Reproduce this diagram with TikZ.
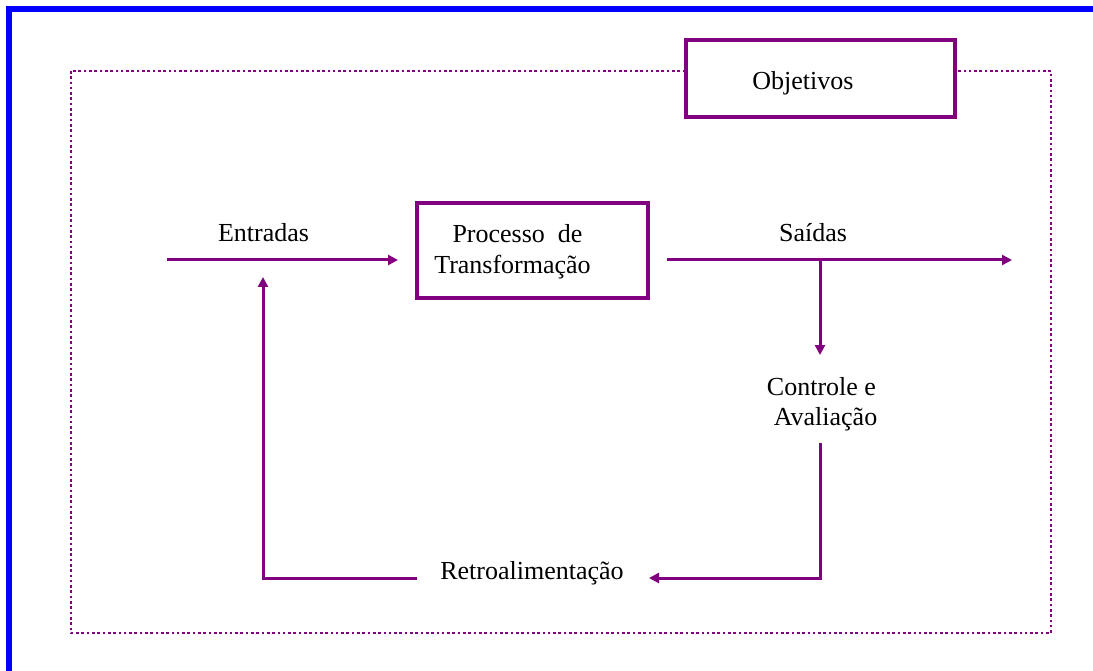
\documentclass[tikz,border=0pt]{standalone}
\usepackage{fontspec}
\setmainfont{Liberation Serif}
\usetikzlibrary{arrows.meta}
\definecolor{ink}{RGB}{128,0,128}
\definecolor{frameblue}{RGB}{0,0,255}
\begin{document}
\begin{tikzpicture}[x=1pt,y=-1pt,
  every node/.style={font=\fontsize{26}{30}\selectfont, inner sep=0pt, outer sep=0pt},
  box/.style={draw=ink, line width=3.2pt, fill=white, rectangle},
  flow/.style={draw=ink, line width=3pt, -{Triangle[length=10pt,width=10pt]}},
  boundary/.style={draw=ink, line width=2.8pt, dash pattern=on 2.6pt off 2.7pt},
  txt/.style={anchor=base, text=black}
]
\useasboundingbox (0,0) rectangle (1093,671);
\fill[white] (0,0) rectangle (1093,671);

% outer page frame (top and left edges)
\draw[frameblue, line width=5.6pt] (9.2,671) -- (9.2,9.2) -- (1093,9.2);

% system boundary
\draw[boundary] (71,71) rectangle (1051,633);

% boxes
\node[box, minimum width=269pt, minimum height=77pt] (objbox) at (820.5,78.5) {};
\node[txt] (obj) at (803,90) {Objetivos};

\node[box, minimum width=231pt, minimum height=95pt] (proc) at (532.5,250.5) {};
\node[txt] (proc1) at (517.5,243) {Processo\ \ de};
\node[txt] (proc2) at (512.5,273) {Transformação};

% labels
\node[txt] (entr) at (263.5,242) {Entradas};
\node[txt] (said) at (813,242) {Saídas};
\node[txt] (ctrl1) at (821.5,395) {Controle e};
\node[txt] (ctrl2) at (825.5,425) {Avaliação};
\node[txt] (retro) at (532,579) {Retroalimentação};

% connector end points
\coordinate (inStart) at (167,260);
\coordinate (inEnd) at (398,260);
\coordinate (outStart) at (667,260);
\coordinate (outEnd) at (1012,260);
\coordinate (branch) at (820,260);
\coordinate (branchEnd) at (820,355);
\coordinate (fbTop) at (820,443);
\coordinate (fbTip) at (649,578);
\coordinate (fbTail) at (417,578);
\coordinate (fbUp) at (263,277);

% flows
\draw[flow] (inStart) -- (inEnd);
\draw[flow] (outStart) -- (outEnd);
\draw[flow] (branch) -- (branchEnd);
\draw[flow] (fbTop) |- (fbTip);
\draw[flow] (fbTail) -| (fbUp);
\end{tikzpicture}
\end{document}
